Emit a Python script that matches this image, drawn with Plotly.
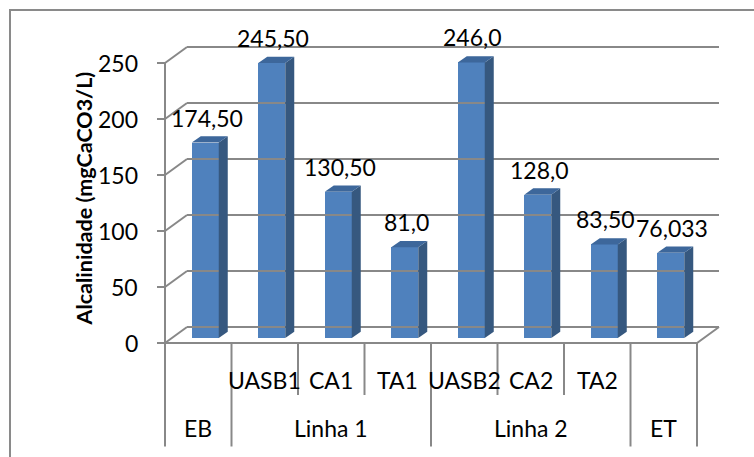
import plotly.graph_objects as go

# ---------------- data ----------------
sub_labels = ["", "UASB1", "CA1", "TA1", "UASB2", "CA2", "TA2", ""]
group_labels = ["EB", "Linha 1", "Linha 2", "ET"]
group_sizes = [1, 3, 3, 1]
values = [174.5, 245.5, 130.5, 81.0, 246.0, 128.0, 83.5, 76.033]
value_text = ["174,50", "245,50", "130,50", "81,0", "246,0", "128,0", "83,50", "76,033"]
y_ticks = [0, 50, 100, 150, 200, 250]
y_title = "Alcalinidade (mgCaCO3/L)"

# ---------------- geometry (pixel scale helpers) ----------------
W, H = 754, 457
PX_X = 66.5          # pixels per category
PX_Y = 1.12          # pixels per value unit
X0_PX, Y0_PX = 165, 343   # pixel of (x=-0.5, y=0) on the front plane
n = len(values)

def px_x(p):  # pixel -> data x
    return (p - X0_PX) / PX_X - 0.5

def px_y(p):  # pixel -> data y
    return (Y0_PX - p) / PX_Y

DX = 22 / PX_X       # depth of the walls in x units
DY = 16 / PX_Y       # depth in y units
BAR_W = 27 / PX_X
BAR_SHIFT = 7 / PX_X
BAR_BASE = 5 / PX_Y
SDX = 9 / PX_X
SDY = 6.3 / PX_Y

GRID = "#888888"
FRONT = "#4F81BD"
SIDE = "#36587F"
TOP = "#3D679B"
FONT = "Lato"

fig = go.Figure()

def add_line(xs, ys, width=2, color=GRID):
    fig.add_trace(go.Scatter(x=xs, y=ys, mode="lines", line=dict(color=color, width=width),
                             hoverinfo="skip", showlegend=False))

left = -0.5
right = n - 0.5

# back wall gridlines, diagonals and front tick marks
gx, gy = [], []
for t in y_ticks:
    gx += [left + DX, right + DX, None]
    gy += [t + DY, t + DY, None]
    gx += [left, left + DX, None]
    gy += [t, t + DY, None]
    gx += [left - 8 / PX_X, left, None]
    gy += [t, t, None]
add_line(gx, gy)

# front axis line, floor front edge, right floor diagonal
add_line([left, left, None, left - 8 / PX_X, right, right + DX],
         [y_ticks[-1], 0, None, 0, 0, DY])

# category dividers (short inside groups, long at group boundaries)
short_bottom = px_y(395)
long_bottom = px_y(446.5)
boundaries = [0]
for s in group_sizes:
    boundaries.append(boundaries[-1] + s)
vx, vy = [], []
for k in range(n + 1):
    bottom = long_bottom if k in boundaries else short_bottom
    vx += [k - 0.5, k - 0.5, None]
    vy += [0, bottom, None]
add_line(vx, vy)

# bars: front faces
centers = [i + BAR_SHIFT for i in range(n)]
fig.add_trace(go.Bar(x=centers, y=values, base=[BAR_BASE] * n, width=[BAR_W] * n,
                     marker=dict(color=FRONT, line=dict(width=0)),
                     hoverinfo="skip", showlegend=False))

# side and top faces
sx, sy, tx, ty = [], [], [], []
for c, v in zip(centers, values):
    xl, xr = c - BAR_W / 2, c + BAR_W / 2
    top = BAR_BASE + v
    sx += [xr, xr + SDX, xr + SDX, xr, xr, None]
    sy += [BAR_BASE, BAR_BASE + SDY, top + SDY, top, BAR_BASE, None]
    tx += [xl, xr, xr + SDX, xl + SDX, xl, None]
    ty += [top, top, top + SDY, top + SDY, top, None]
fig.add_trace(go.Scatter(x=sx, y=sy, mode="lines", fill="toself", fillcolor=SIDE,
                         line=dict(width=0, color=SIDE), hoverinfo="skip", showlegend=False))
fig.add_trace(go.Scatter(x=tx, y=ty, mode="lines", fill="toself", fillcolor=TOP,
                         line=dict(width=0, color=TOP), hoverinfo="skip", showlegend=False))

annotations = []
font = dict(family=FONT, size=23, color="#000000")

# value labels
for c, v, t in zip(centers, values, value_text):
    annotations.append(dict(x=c + 0.02, y=BAR_BASE + v, text=t, showarrow=False,
                            xanchor="center", yanchor="middle", yshift=25, font=font))

# y tick labels
for t in y_ticks:
    annotations.append(dict(x=px_x(140), y=t, text=str(t), showarrow=False,
                            xanchor="right", yanchor="middle", font=font))

# category labels (row 1)
for i, lab in enumerate(sub_labels):
    if lab:
        annotations.append(dict(x=i, y=px_y(380), text=lab, showarrow=False,
                                xanchor="center", yanchor="middle", font=font))
# group labels (row 2)
for g, lab in enumerate(group_labels):
    mid = (boundaries[g] + boundaries[g + 1]) / 2 - 0.5
    annotations.append(dict(x=mid, y=px_y(428), text=lab, showarrow=False,
                            xanchor="center", yanchor="middle", font=font))

# y title
annotations.append(dict(x=px_x(83.5), y=px_y(199), text="<b>" + y_title + "</b>",
                        textangle=-90, showarrow=False, xanchor="center", yanchor="middle",
                        font=dict(family=FONT, size=21.5, color="#000000")))

fig.update_layout(
    width=W, height=H,
    margin=dict(l=0, r=0, t=0, b=0, pad=0),
    paper_bgcolor="white", plot_bgcolor="white",
    xaxis=dict(range=[px_x(0), px_x(W)], visible=False, fixedrange=True),
    yaxis=dict(range=[px_y(H), px_y(0)], visible=False, fixedrange=True),
    annotations=annotations,
    shapes=[dict(type="path", xref="paper", yref="paper",
                 path=f"M {10/W},-0.05 L {10/W},{1-10/H} L 1.05,{1-10/H}",
                 line=dict(color="#8A8A8A", width=2))],
    bargap=0,
)

fig.write_html("out.html")
